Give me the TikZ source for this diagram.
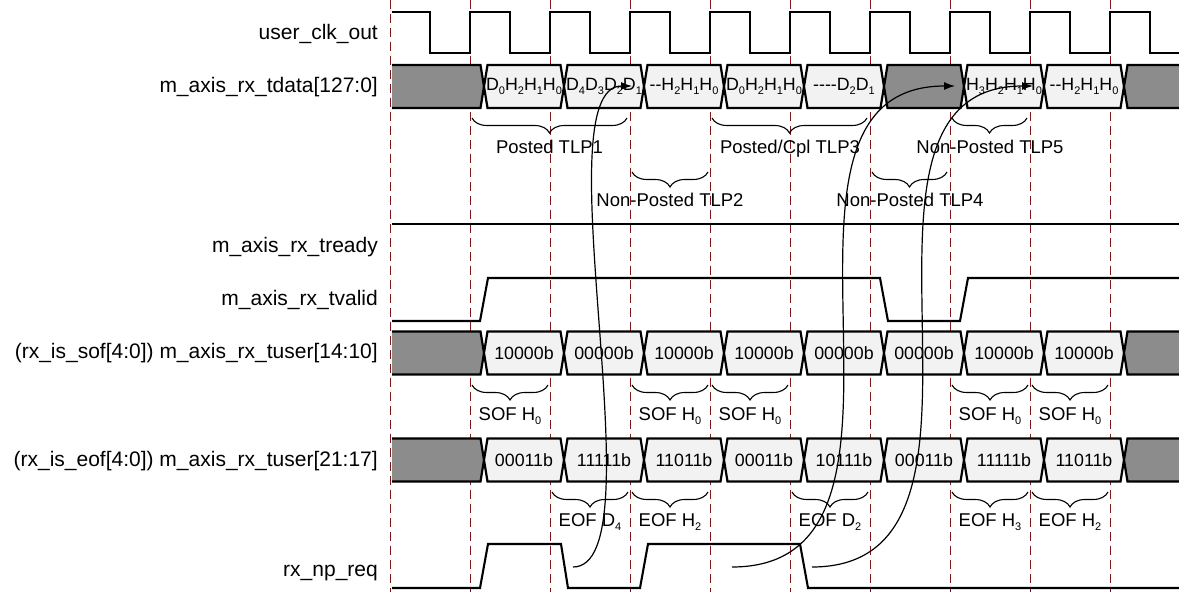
\documentclass[tikz,border=0pt]{standalone}
\usepackage{fontspec}
\setmainfont{Liberation Sans}
\usetikzlibrary{decorations.pathreplacing,arrows.meta}
\definecolor{gridred}{RGB}{128,24,24}
\definecolor{lightfill}{RGB}{242,242,242}
\definecolor{darkfill}{RGB}{140,140,140}
\newcommand\sbs[1]{\raisebox{-4.5pt}{\fontsize{11}{11}\selectfont #1}}
\newcommand\busseg[6]{%
  \filldraw[busline, fill=#5] (#3,#2) -- (#3+3.5,#2-21.5) -- (#4-3.5,#2-21.5) -- (#4,#2) -- (#4-3.5,#2+21.5) -- (#3+3.5,#2+21.5) -- cycle;
  \node[val] (#1) at ({(#3+#4)/2},#2) {#6};}
\newcommand\busstart[3]{%
  \fill[darkfill] (392,#2-21.5) -- (#3-3.5,#2-21.5) -- (#3,#2) -- (#3-3.5,#2+21.5) -- (392,#2+21.5) -- cycle;
  \draw[busline] (392,#2-21.5) -- (#3-3.5,#2-21.5) -- (#3,#2) -- (#3-3.5,#2+21.5) -- (392,#2+21.5);
  \coordinate (#1) at (392,#2);}
\newcommand\busend[3]{%
  \fill[darkfill] (1185,#2-21.5) -- (#3+3.5,#2-21.5) -- (#3,#2) -- (#3+3.5,#2+21.5) -- (1185,#2+21.5) -- cycle;
  \draw[busline] (1185,#2-21.5) -- (#3+3.5,#2-21.5) -- (#3,#2) -- (#3+3.5,#2+21.5) -- (1185,#2+21.5);
  \coordinate (#1) at (1179,#2);}
\begin{document}
\begin{tikzpicture}[x=1pt,y=-1pt,
  busline/.style={line width=2.2pt, line join=miter, miter limit=4},
  wave/.style={line width=2.1pt, line join=miter},
  gridline/.style={draw=gridred, line width=1pt, dash pattern=on 8.5pt off 5.5pt},
  lbl/.style={anchor=east, inner sep=0pt, font=\fontsize{21}{24}\selectfont},
  val/.style={inner sep=0pt, font=\fontsize{17.8}{20}\selectfont},
  brc/.style={decorate, decoration={brace, mirror, amplitude=15pt}, line width=1.1pt},
  blab/.style={anchor=base, inner sep=0pt, font=\fontsize{18.5}{20}\selectfont},
  arr/.style={line width=1.2pt, -{Latex[length=11pt,width=8pt]}}
]
\useasboundingbox (0,0) rectangle (1179,592);

% grid lines
\draw[gridline] (390,0) -- (390,592);
\foreach \x in {470,550,...,1110} \draw[gridline] (\x,0) -- (\x,592);

% signal names
\node[lbl] (nclk) at (378,34) {user\_clk\_out};
\node[lbl] (ndata) at (378,87) {m\_axis\_rx\_tdata[127:0]};
\node[lbl] (nready) at (378,247) {m\_axis\_rx\_tready};
\node[lbl] (nvalid) at (378,300) {m\_axis\_rx\_tvalid};
\node[lbl] (nsof) at (378,353) {(rx\_is\_sof[4:0]) m\_axis\_rx\_tuser[14:10]};
\node[lbl] (neof) at (378,461) {(rx\_is\_eof[4:0]) m\_axis\_rx\_tuser[21:17]};
\node[lbl, anchor=base east] (nnp) at (378,576) {rx\_np\_req};

% clock
\draw[wave] (392,12) foreach \k in {0,...,8} { -- ({430+80*\k},12) -- ({430+80*\k},53) -- ({470+80*\k},53) -- ({470+80*\k},12) } -- (1150,12) -- (1150,53) -- (1182,53);

% tdata bus
\busstart{d0}{86.5}{484}
\busseg{d1}{86.5}{484}{564}{lightfill}{D\sbs{0}H\sbs{2}H\sbs{1}H\sbs{0}}
\busseg{d2}{86.5}{564}{644}{lightfill}{D\sbs{4}D\sbs{3}D\sbs{2}D\sbs{1}}
\busseg{d3}{86.5}{644}{724}{lightfill}{-{}-H\sbs{2}H\sbs{1}H\sbs{0}}
\busseg{d4}{86.5}{724}{804}{lightfill}{D\sbs{0}H\sbs{2}H\sbs{1}H\sbs{0}}
\busseg{d5}{86.5}{804}{884}{lightfill}{-{}-{}-{}-D\sbs{2}D\sbs{1}}
\busseg{d6}{86.5}{884}{964}{darkfill}{}
\busseg{d7}{86.5}{964}{1044}{lightfill}{H\sbs{3}H\sbs{2}H\sbs{1}H\sbs{0}}
\busseg{d8}{86.5}{1044}{1124}{lightfill}{-{}-H\sbs{2}H\sbs{1}H\sbs{0}}
\busend{d9}{86.5}{1124}

% TLP braces
\draw[brc] (472,118) -- (627,118);
\node[blab] (t1) at (549.5,153) {Posted TLP1};
\draw[brc] (712,118) -- (867,118);
\node[blab] (t3) at (790,153) {Posted/Cpl TLP3};
\draw[brc] (952,118) -- (1027,118);
\node[blab] (t5) at (990,153) {Non-Posted TLP5};
\draw[brc] (632,172) -- (708,172);
\node[blab] (t2) at (670,206) {Non-Posted TLP2};
\draw[brc] (872,172) -- (947,172);
\node[blab] (t4) at (910,206) {Non-Posted TLP4};

% tready
\draw[wave] (392,224) -- (1182,224);
% tvalid
\draw[wave] (392,321) -- (480,321) -- (488,278) -- (880,278) -- (888,321) -- (960,321) -- (968,278) -- (1182,278);

% sof bus
\busstart{s0}{353}{484}
\busseg{s1}{353}{484}{564}{lightfill}{10000b}
\busseg{s2}{353}{564}{644}{lightfill}{00000b}
\busseg{s3}{353}{644}{724}{lightfill}{10000b}
\busseg{s4}{353}{724}{804}{lightfill}{10000b}
\busseg{s5}{353}{804}{884}{lightfill}{00000b}
\busseg{s6}{353}{884}{964}{lightfill}{00000b}
\busseg{s7}{353}{964}{1044}{lightfill}{10000b}
\busseg{s8}{353}{1044}{1124}{lightfill}{10000b}
\busend{s9}{353}{1124}

% SOF braces
\draw[brc] (472,385) -- (548,385);
\node[blab] (sa) at (510,420) {SOF H\sbs{0}};
\draw[brc] (632,385) -- (708,385);
\node[blab] (sb) at (670,420) {SOF H\sbs{0}};
\draw[brc] (712,385) -- (788,385);
\node[blab] (sc) at (750,420) {SOF H\sbs{0}};
\draw[brc] (952,385) -- (1028,385);
\node[blab] (sd) at (990,420) {SOF H\sbs{0}};
\draw[brc] (1032,385) -- (1108,385);
\node[blab] (se) at (1070,420) {SOF H\sbs{0}};

% eof bus
\busstart{e0}{460}{484}
\busseg{e1}{460}{484}{564}{lightfill}{00011b}
\busseg{e2}{460}{564}{644}{lightfill}{11111b}
\busseg{e3}{460}{644}{724}{lightfill}{11011b}
\busseg{e4}{460}{724}{804}{lightfill}{00011b}
\busseg{e5}{460}{804}{884}{lightfill}{10111b}
\busseg{e6}{460}{884}{964}{lightfill}{00011b}
\busseg{e7}{460}{964}{1044}{lightfill}{11111b}
\busseg{e8}{460}{1044}{1124}{lightfill}{11011b}
\busend{e9}{460}{1124}

% EOF braces
\draw[brc] (552,492) -- (628,492);
\node[blab] (ea) at (590,526) {EOF D\sbs{4}};
\draw[brc] (632,492) -- (708,492);
\node[blab] (eb) at (670,526) {EOF H\sbs{2}};
\draw[brc] (792,492) -- (868,492);
\node[blab] (ec) at (830,526) {EOF D\sbs{2}};
\draw[brc] (952,492) -- (1028,492);
\node[blab] (ed) at (990,526) {EOF H\sbs{3}};
\draw[brc] (1032,492) -- (1108,492);
\node[blab] (ee) at (1070,526) {EOF H\sbs{2}};

% rx_np_req
\draw[wave] (392,588) -- (480,588) -- (488,544) -- (561,544) -- (568,588) -- (640,588) -- (648,544) -- (800,544) -- (808,588) -- (1182,588);

% request-to-TLP arrows
\coordinate (a0) at (573,567);
\coordinate (a1) at (632,86);
\coordinate (b0) at (732,567);
\coordinate (b1) at (955,86);
\coordinate (c0) at (812,567);
\coordinate (c1) at (1033,86);
\draw[arr] (a0) .. controls +(87,0) and +(-92,0) .. (a1);
\draw[arr] (b0) .. controls +(228,0) and +(-225,0) .. (b1);
\draw[arr] (c0) .. controls +(225,0) and +(-222,0) .. (c1);
\end{tikzpicture}
\end{document}
